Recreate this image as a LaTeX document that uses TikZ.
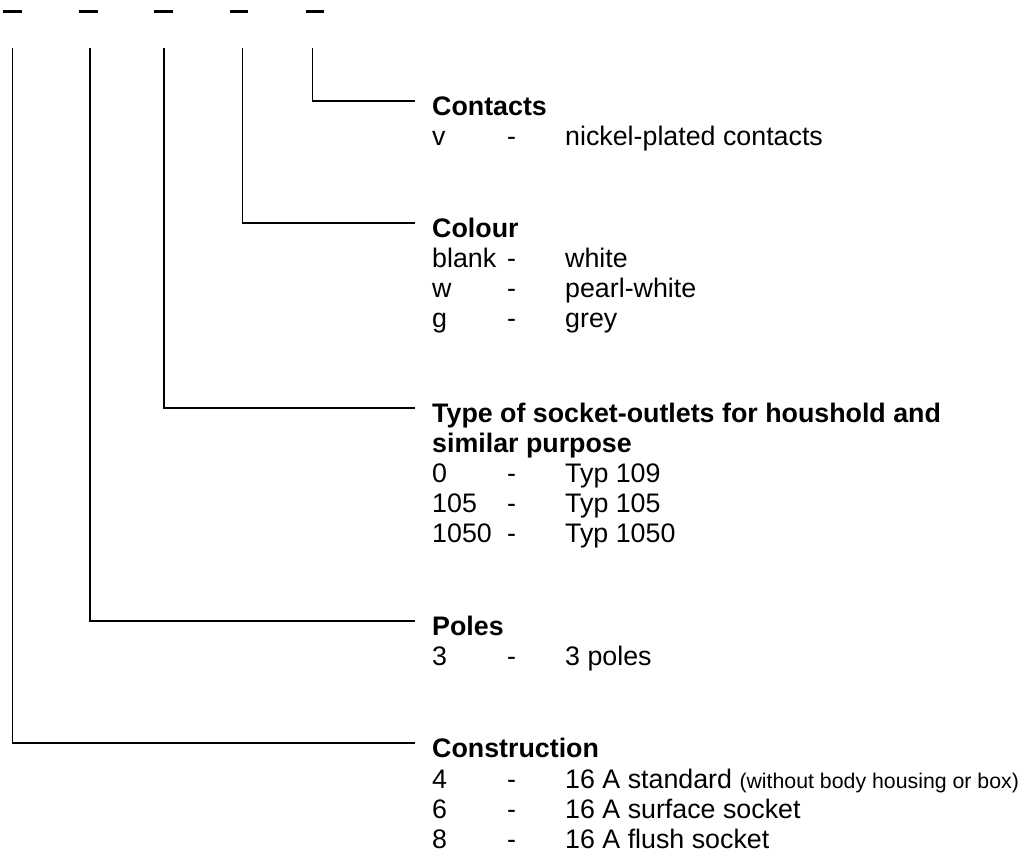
\documentclass[tikz,border=0pt]{standalone}
\usepackage{fontspec}
\setmainfont{Liberation Sans}
\usetikzlibrary{calc}
\newcommand\coderow[2]{\makebox[75pt][l]{#1}\makebox[58pt][l]{-}#2}
\begin{document}
\begin{tikzpicture}[x=1pt,y=-1pt,
  lbl/.style={anchor=base west,inner sep=0pt,font=\fontsize{26.8}{30}\selectfont},
  head/.style={lbl,font=\fontsize{26.8}{30}\selectfont\bfseries},
  wire/.style={line width=1.5pt},
  slot/.style={line width=3.3pt}]
\useasboundingbox[fill=white] (0,0) rectangle (1024,852);

% code placeholders
\draw[slot] (3.3,11.7) -- (21.7,11.7);
\draw[slot] (79,11.7) -- (97.7,11.7);
\draw[slot] (154.3,11.7) -- (173.3,11.7);
\draw[slot] (230,11.7) -- (248.3,11.7);
\draw[slot] (305.7,11.7) -- (324,11.7);

% tops of the leader lines
\coordinate (s1) at (12.3,48);
\coordinate (s2) at (90,48);
\coordinate (s3) at (164,48);
\coordinate (s4) at (242.3,48);
\coordinate (s5) at (312.3,48);

% Contacts
\node[head] (hv) at (432,115) {Contacts};
\node[lbl] (v1) at (432,145) {\coderow{v}{nickel-plated contacts}};

% Colour
\node[head] (hc) at (432,237) {Colour};
\node[lbl] (c1) at (432,267) {\coderow{blank}{white}};
\node[lbl] (c2) at (432,297) {\coderow{w}{pearl-white}};
\node[lbl] (c3) at (432,327) {\coderow{g}{grey}};

% Type
\node[head] (ht) at (432,422) {Type of socket-outlets for houshold and};
\node[head] (ht2) at (432,452) {similar purpose};
\node[lbl] (t1) at (432,482) {\coderow{0}{Typ 109}};
\node[lbl] (t2) at (432,512) {\coderow{105}{Typ 105}};
\node[lbl] (t3) at (432,542) {\coderow{1050}{Typ 1050}};

% Poles
\node[head] (hp) at (432,635) {Poles};
\node[lbl] (p1) at (432,665) {\coderow{3}{3 poles}};

% Construction
\node[head] (hk) at (432,757) {Construction};
\node[lbl] (k1) at (432,788) {\coderow{4}{16 A standard {\fontsize{21.3}{30}\selectfont(without body housing or box)}}};
\node[lbl] (k2) at (432,818) {\coderow{6}{16 A surface socket}};
\node[lbl] (k3) at (432,848) {\coderow{8}{16 A flush socket}};

% leaders
\draw[wire] (s5) |- ($(hv.base west)+(-17,-14)$);
\draw[wire] (s4) |- ($(hc.base west)+(-17,-14)$);
\draw[wire] (s3) |- ($(ht.base west)+(-17,-14)$);
\draw[wire] (s2) |- ($(hp.base west)+(-17,-14)$);
\draw[wire] (s1) |- ($(hk.base west)+(-17,-14)$);
\end{tikzpicture}
\end{document}
